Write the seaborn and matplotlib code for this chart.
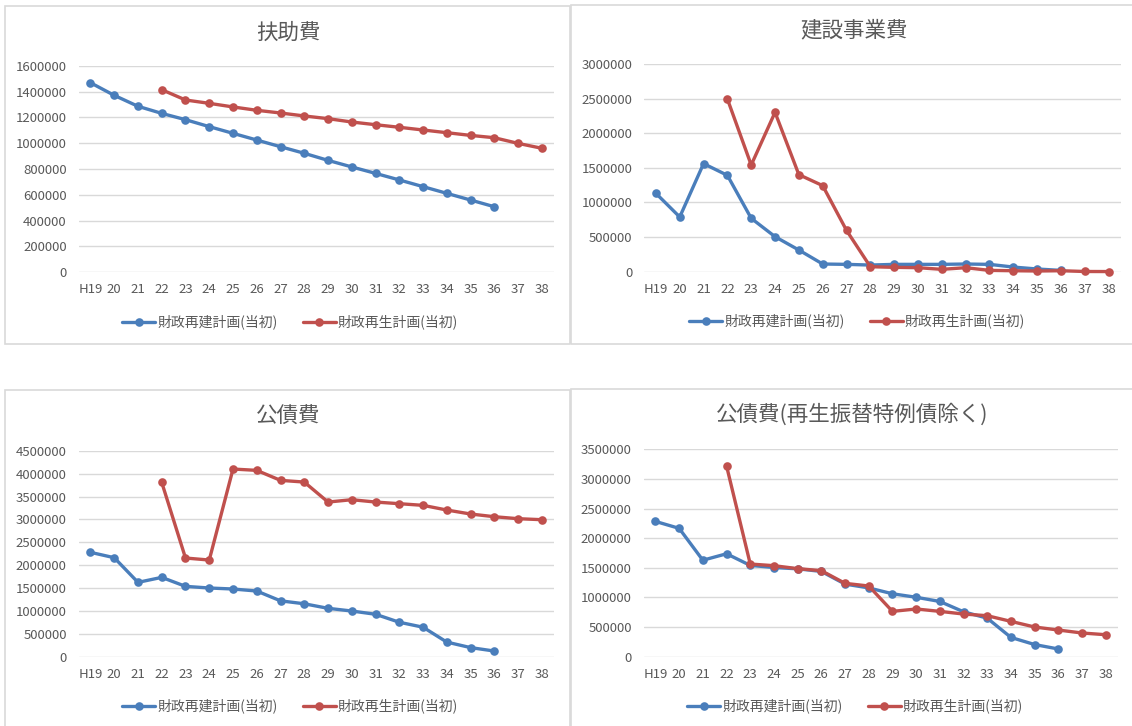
import numpy as np
import pandas as pd
import matplotlib
matplotlib.use("Agg")
import matplotlib.pyplot as plt
import matplotlib.ticker as mticker
from matplotlib.patches import Rectangle
import seaborn as sns

nan = np.nan

# Fiscal years (Heisei)
years = ["H19", "20", "21", "22", "23", "24", "25", "26", "27", "28",
         "29", "30", "31", "32", "33", "34", "35", "36", "37", "38"]
series_names = ["財政再建計画(当初)", "財政再生計画(当初)"]

# 扶助費
fujo_saiken = [1470000, 1372000, 1287000, 1232000, 1183000, 1129000, 1077000,
               1025000, 973000, 922000, 867000, 816000, 766000, 715000, 663000,
               611000, 559000, 507000, nan, nan]
fujo_saisei = [nan, nan, nan, 1416000, 1336000, 1310000, 1282000, 1256000,
               1235000, 1212000, 1191000, 1165000, 1144000, 1124000, 1103000,
               1082000, 1061000, 1043000, 999000, 961000]

# 建設事業費
kensetsu_saiken = [1132000, 790000, 1561000, 1392000, 771000, 506000, 313000,
                   111000, 106000, 96000, 106000, 106000, 106000, 111000,
                   106000, 67000, 39000, 19000, nan, nan]
kensetsu_saisei = [nan, nan, nan, 2495000, 1541000, 2302000, 1402000, 1243000,
                   597000, 72000, 63000, 58000, 34000, 58000, 19000, 14000,
                   10000, 14000, 3000, 2000]

# 公債費
kosai_saiken = [2283000, 2166000, 1628000, 1737000, 1541000, 1505000, 1483000,
                1439000, 1225000, 1161000, 1062000, 1003000, 932000, 758000,
                650000, 325000, 205000, 130000, nan, nan]
kosai_saisei = [nan, nan, nan, 3809000, 2159000, 2115000, 4100000, 4071000,
                3853000, 3816000, 3380000, 3431000, 3380000, 3344000, 3308000,
                3206000, 3119000, 3060000, 3017000, 2995000]

# 公債費(再生振替特例債除く)
kosai_ex_saisei = [nan, nan, nan, 3219000, 1564000, 1536000, 1486000, 1452000,
                   1238000, 1193000, 765000, 805000, 765000, 720000, 692000,
                   596000, 501000, 450000, 400000, 371000]

titles = ["扶助費", "建設事業費", "公債費", "公債費(再生振替特例債除く)"]
y_max = [1600000, 3000000, 4500000, 3500000]
y_step = [200000, 500000, 500000, 500000]
panel_series = [
    (fujo_saiken, fujo_saisei),
    (kensetsu_saiken, kensetsu_saisei),
    (kosai_saiken, kosai_saisei),
    (kosai_saiken, kosai_ex_saisei),
]

sns.set_theme(style="white")
plt.rcParams["font.family"] = ["Noto Sans CJK JP", "DejaVu Sans"]

W, H = 1132, 726
fig = plt.figure(figsize=(W / 100, H / 100), dpi=100)
fig.patch.set_facecolor("white")

TEXT = "#595959"
GRID = "#d9d9d9"
palette = {series_names[0]: "#4a7ebb", series_names[1]: "#c0504d"}


def px_rect(x0, y0, x1, y1):
    """Pixel box (top-left origin) -> figure-fraction [l, b, w, h]."""
    return [x0 / W, 1 - y1 / H, (x1 - x0) / W, (y1 - y0) / H]


# chart frames
frames = [(5, 6, 570, 344), (571, 5, 1140, 344),
          (5, 390, 570, 730), (571, 389, 1140, 730)]
for x0, y0, x1, y1 in frames:
    fig.add_artist(Rectangle((x0 / W, 1 - y1 / H), (x1 - x0) / W, (y1 - y0) / H,
                             transform=fig.transFigure, fill=False,
                             edgecolor=GRID, linewidth=1.2))

# plot areas, titles and legends (pixel positions)
axes_px = [(78.6, 66, 553.7, 272), (644, 64, 1120.5, 271.7),
           (78.6, 450.7, 553.7, 657), (643.6, 449.3, 1117.6, 656.7)]
title_px = [(288, 33), (854, 30), (288, 417), (852, 415)]
legend_px = [(290, 322), (857, 321), (290, 706), (855, 706)]

for i in range(4):
    ax = fig.add_axes(px_rect(*axes_px[i]))
    s_a, s_b = panel_series[i]
    df = pd.DataFrame({
        "pos": list(range(len(years))) * 2,
        "value": list(s_a) + list(s_b),
        "series": [series_names[0]] * len(years) + [series_names[1]] * len(years),
    }).dropna()
    sns.lineplot(data=df, x="pos", y="value", hue="series",
                 hue_order=series_names, palette=palette, marker="o",
                 markersize=6.2, markeredgewidth=0, linewidth=2.4,
                 errorbar=None, legend=False, clip_on=False, ax=ax)

    ax.set_xlim(-0.5, len(years) - 0.5)
    ax.set_ylim(0, y_max[i])
    ax.set_xticks(range(len(years)))
    ax.set_xticklabels(years)
    ax.set_yticks(np.arange(0, y_max[i] + 1, y_step[i]))
    ax.yaxis.set_major_formatter(mticker.StrMethodFormatter("{x:.0f}"))
    ax.set_xlabel("")
    ax.set_ylabel("")
    ax.grid(False)
    ax.yaxis.grid(True, color=GRID, linewidth=1.0)
    ax.set_axisbelow(True)
    for sp in ax.spines.values():
        sp.set_visible(False)
    ax.tick_params(axis="both", length=0, labelsize=9.5, colors=TEXT)
    ax.tick_params(axis="x", pad=8)
    ax.tick_params(axis="y", pad=8.5)
    ax.set_facecolor("none")

    tx, ty = title_px[i]
    fig.text(tx / W, 1 - ty / H, titles[i], ha="center", va="center",
             fontsize=15.5, color=TEXT)

    lx, ly = legend_px[i]
    ax.legend(handles=ax.lines[:2], labels=series_names, loc="center",
              bbox_to_anchor=(lx / W, 1 - ly / H),
              bbox_transform=fig.transFigure, ncol=2, frameon=False,
              fontsize=10, labelcolor=TEXT, handlelength=2.4,
              handletextpad=0.15, columnspacing=1.8, borderpad=0)

fig.savefig("out.png", dpi=100, facecolor="white")
